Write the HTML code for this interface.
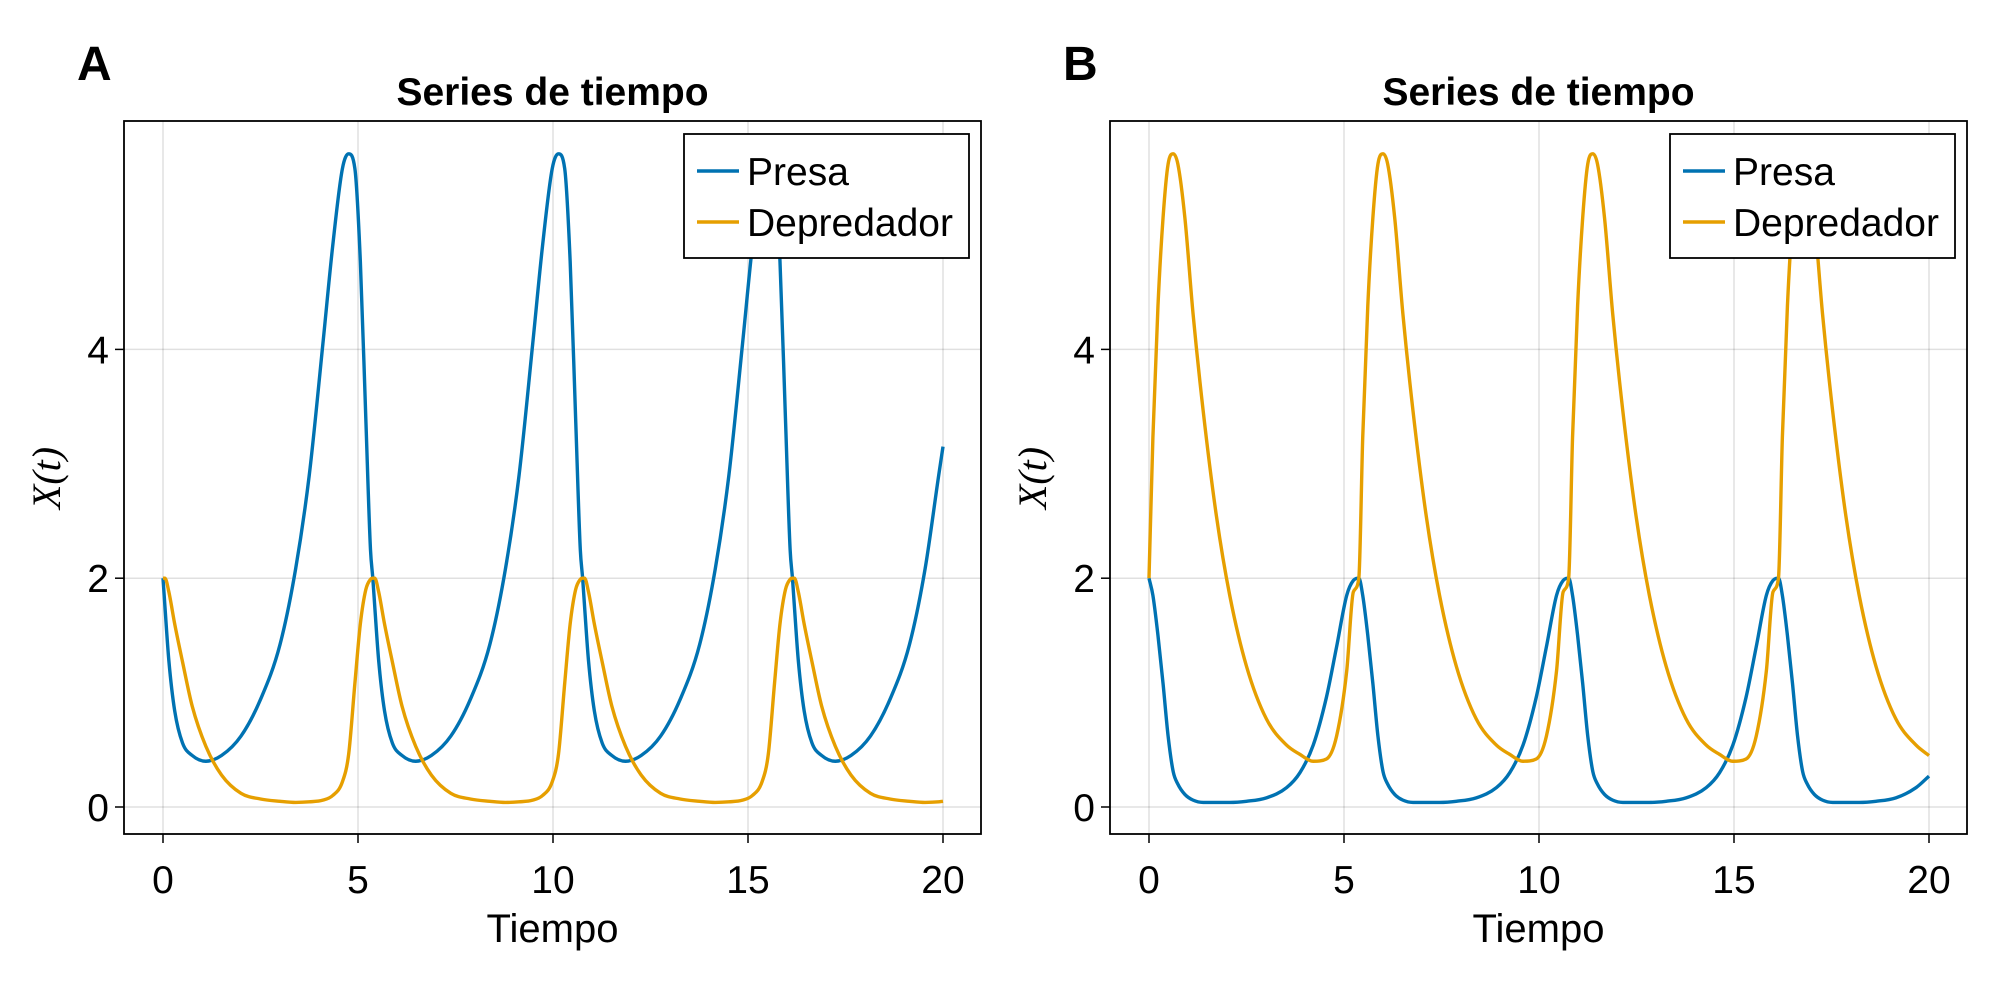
<!DOCTYPE html>
<html><head><meta charset="utf-8"><style>
html,body{margin:0;padding:0;background:#fff;}
svg{display:block;font-family:"Liberation Sans",Arial,sans-serif;}
</style></head><body>
<svg id="fig" width="2000" height="1000" viewBox="0 0 2000 1000"></svg>
<script>
const xTicks=[0,5,10,15,20];
const yTicks=[0,2,4];
const tA=[0,0.05,0.15,0.3,0.5,0.75,1.1,1.5,2.0,2.5,3.0,3.4,3.75,4.1,4.35,4.6,4.76,4.92,5.06,5.2,5.32,
5.38,5.43,5.53,5.68,5.88,6.13,6.48,6.88,7.38,7.88,8.38,8.78,9.13,9.48,9.73,9.98,10.14,10.3,10.44,10.58,10.7,
10.76,10.81,10.91,11.06,11.26,11.51,11.86,12.26,12.76,13.26,13.76,14.16,14.51,14.86,15.11,15.36,15.52,15.68,15.82,15.96,16.08,
16.14,16.19,16.29,16.44,16.64,16.89,17.24,17.64,18.14,18.64,19.14,19.54,19.89,20];
const preyA=[2.0,1.75,1.28,0.84,0.56,0.45,0.40,0.45,0.62,0.94,1.42,2.08,2.9,4.05,4.9,5.58,5.71,5.58,4.77,3.4,2.25,
2.0,1.75,1.28,0.84,0.56,0.45,0.40,0.45,0.62,0.94,1.42,2.08,2.9,4.05,4.9,5.58,5.71,5.58,4.77,3.4,2.25,
2.0,1.75,1.28,0.84,0.56,0.45,0.40,0.45,0.62,0.94,1.42,2.08,2.9,4.05,4.9,5.58,5.71,5.58,4.77,3.4,2.25,
2.0,1.75,1.28,0.84,0.56,0.45,0.40,0.45,0.62,0.94,1.42,2.08,2.9,3.15];
const predA=[2.0,2.0,1.88,1.6,1.27,0.88,0.53,0.28,0.12,0.07,0.05,0.04,0.045,0.06,0.1,0.22,0.46,1.08,1.6,1.9,1.99,
2.0,2.0,1.88,1.6,1.27,0.88,0.53,0.28,0.12,0.07,0.05,0.04,0.045,0.06,0.1,0.22,0.46,1.08,1.6,1.9,1.99,
2.0,2.0,1.88,1.6,1.27,0.88,0.53,0.28,0.12,0.07,0.05,0.04,0.045,0.06,0.1,0.22,0.46,1.08,1.6,1.9,1.99,
2.0,2.0,1.88,1.6,1.27,0.88,0.53,0.28,0.12,0.07,0.05,0.04,0.045,0.05];
const tB=[0,0.1,0.23,0.36,0.49,0.62,0.74,0.92,1.13,1.39,1.73,2.07,2.5,3.01,3.53,3.87,4.21,4.55,4.81,5.07,5.24,
5.38,5.48,5.61,5.74,5.87,6.0,6.12,6.3,6.51,6.77,7.11,7.45,7.88,8.39,8.91,9.25,9.59,9.93,10.19,10.45,10.62,
10.76,10.86,10.99,11.12,11.25,11.38,11.5,11.68,11.89,12.15,12.49,12.83,13.26,13.77,14.29,14.63,14.97,15.31,15.57,15.83,16.0,
16.14,16.24,16.37,16.5,16.63,16.76,16.88,17.06,17.27,17.53,17.87,18.21,18.64,19.15,19.67,20];
const preyB=[2.0,1.85,1.5,1.08,0.62,0.31,0.2,0.11,0.06,0.04,0.04,0.04,0.05,0.08,0.17,0.3,0.54,0.96,1.4,1.85,1.98,
2.0,1.85,1.5,1.08,0.62,0.31,0.2,0.11,0.06,0.04,0.04,0.04,0.05,0.08,0.17,0.3,0.54,0.96,1.4,1.85,1.98,
2.0,1.85,1.5,1.08,0.62,0.31,0.2,0.11,0.06,0.04,0.04,0.04,0.05,0.08,0.17,0.3,0.54,0.96,1.4,1.85,1.98,
2.0,1.85,1.5,1.08,0.62,0.31,0.2,0.11,0.06,0.04,0.04,0.04,0.05,0.08,0.17,0.27];
const predB=[2.0,3.23,4.38,5.15,5.62,5.71,5.62,5.15,4.31,3.46,2.54,1.85,1.23,0.77,0.54,0.46,0.40,0.42,0.62,1.19,1.88,
2.0,3.23,4.38,5.15,5.62,5.71,5.62,5.15,4.31,3.46,2.54,1.85,1.23,0.77,0.54,0.46,0.40,0.42,0.62,1.19,1.88,
2.0,3.23,4.38,5.15,5.62,5.71,5.62,5.15,4.31,3.46,2.54,1.85,1.23,0.77,0.54,0.46,0.40,0.42,0.62,1.19,1.88,
2.0,3.23,4.38,5.15,5.62,5.71,5.62,5.15,4.31,3.46,2.54,1.85,1.23,0.77,0.54,0.45];

const NS='http://www.w3.org/2000/svg';
const svg=document.getElementById('fig');
function mk(tag,attrs,parent){const e=document.createElementNS(NS,tag);for(const k in attrs)e.setAttribute(k,attrs[k]);(parent||svg).appendChild(e);return e;}

function smoothPath(ts,vs,sx,sy){
  const n=ts.length,d=[],m=new Array(n);
  for(let i=0;i<n-1;i++)d.push((vs[i+1]-vs[i])/(ts[i+1]-ts[i]));
  m[0]=d[0];m[n-1]=d[n-2];
  for(let i=1;i<n-1;i++){m[i]=(d[i-1]*d[i]<=0)?0:(d[i-1]+d[i])/2;}
  for(let i=0;i<n-1;i++){if(d[i]===0){m[i]=0;m[i+1]=0;continue;}const a=m[i]/d[i],b=m[i+1]/d[i],s=a*a+b*b;if(s>9){const tt=3/Math.sqrt(s);m[i]=tt*a*d[i];m[i+1]=tt*b*d[i];}}
  let p='M'+sx(ts[0]).toFixed(2)+','+sy(vs[0]).toFixed(2);
  for(let i=0;i<n-1;i++){const h=ts[i+1]-ts[i];
    p+=' C'+sx(ts[i]+h/3).toFixed(2)+','+sy(vs[i]+m[i]*h/3).toFixed(2)+' '+sx(ts[i+1]-h/3).toFixed(2)+','+sy(vs[i+1]-m[i+1]*h/3).toFixed(2)+' '+sx(ts[i+1]).toFixed(2)+','+sy(vs[i+1]).toFixed(2);}
  return p;
}

function panel(letter,off,ts,prey,pred){
  const L=124+off,R=981+off,T=121,B=834;
  const x0=163+off,xs=39;
  const sx=t=>x0+t*xs, sy=v=>807-v*114.4;
  const g=mk('g',{});
  
  
  const lab=mk('text',{x:L-47,y:80,'font-size':48,'font-weight':'bold'},g);lab.textContent=letter;
  
  const ti=mk('text',{x:(L+R)/2,y:105,'font-size':39,'font-weight':'bold','text-anchor':'middle'},g);ti.textContent='Series de tiempo';
  
  for(const t of xTicks){const l=mk('line',{x1:sx(t),x2:sx(t),y1:T,y2:B,stroke:'#000','stroke-opacity':0.12,'stroke-width':1.5},g);
    
    const k=mk('line',{x1:sx(t),x2:sx(t),y1:B,y2:B+9,stroke:'#000','stroke-width':1.5},g);
    
    const tx=mk('text',{x:sx(t),y:893,'font-size':39,'text-anchor':'middle'},g);tx.textContent=t;
    }
  for(const v of yTicks){const l=mk('line',{x1:L,x2:R,y1:sy(v),y2:sy(v),stroke:'#000','stroke-opacity':0.12,'stroke-width':1.5},g);
    
    const k=mk('line',{x1:L-9,x2:L,y1:sy(v),y2:sy(v),stroke:'#000','stroke-width':1.5},g);
    
    const tx=mk('text',{x:L-15,y:sy(v)+14,'font-size':39,'text-anchor':'end'},g);tx.textContent=v;
    }
  const cp=mk('clipPath',{id:'clip'+letter},g);mk('rect',{x:L,y:T,width:R-L,height:B-T},cp);
  const p1=mk('path',{d:smoothPath(ts,prey,sx,sy),fill:'none',stroke:'#0072b2','stroke-width':3.4,'clip-path':'url(#clip'+letter+')'},g);
  
  const p2=mk('path',{d:smoothPath(ts,pred,sx,sy),fill:'none',stroke:'#e69f00','stroke-width':3.4,'clip-path':'url(#clip'+letter+')'},g);
  
  const box=mk('rect',{x:L,y:T,width:R-L,height:B-T,fill:'none',stroke:'#000','stroke-width':1.8},g);
  
  const xl=mk('text',{x:(L+R)/2,y:942,'font-size':40,'text-anchor':'middle'},g);xl.textContent='Tiempo';
  
  const yl=mk('text',{x:0,y:0,'font-size':40,'font-style':'italic','font-family':'Liberation Serif, serif','text-anchor':'middle',transform:'translate('+(L-64)+',478) rotate(-90)'},g);yl.textContent='X(t)';
  
  const lg=mk('g',{},g);
  
  mk('rect',{x:684+off,y:134,width:285,height:124,fill:'#fff',stroke:'#000','stroke-width':1.8},lg);
  const items=[['Presa','#0072b2',171],['Depredador','#e69f00',222]];
  for(const [n,c,y] of items){
    const e=mk('g',{},lg);
    
    mk('line',{x1:697+off,x2:739+off,y1:y,y2:y,stroke:c,'stroke-width':3.4},e);
    const tx=mk('text',{x:747+off,y:y+14,'font-size':39},e);tx.textContent=n;
  }
}
panel('A',0,tA,preyA,predA);
panel('B',986,tB,preyB,predB);
</script>
</body></html>
